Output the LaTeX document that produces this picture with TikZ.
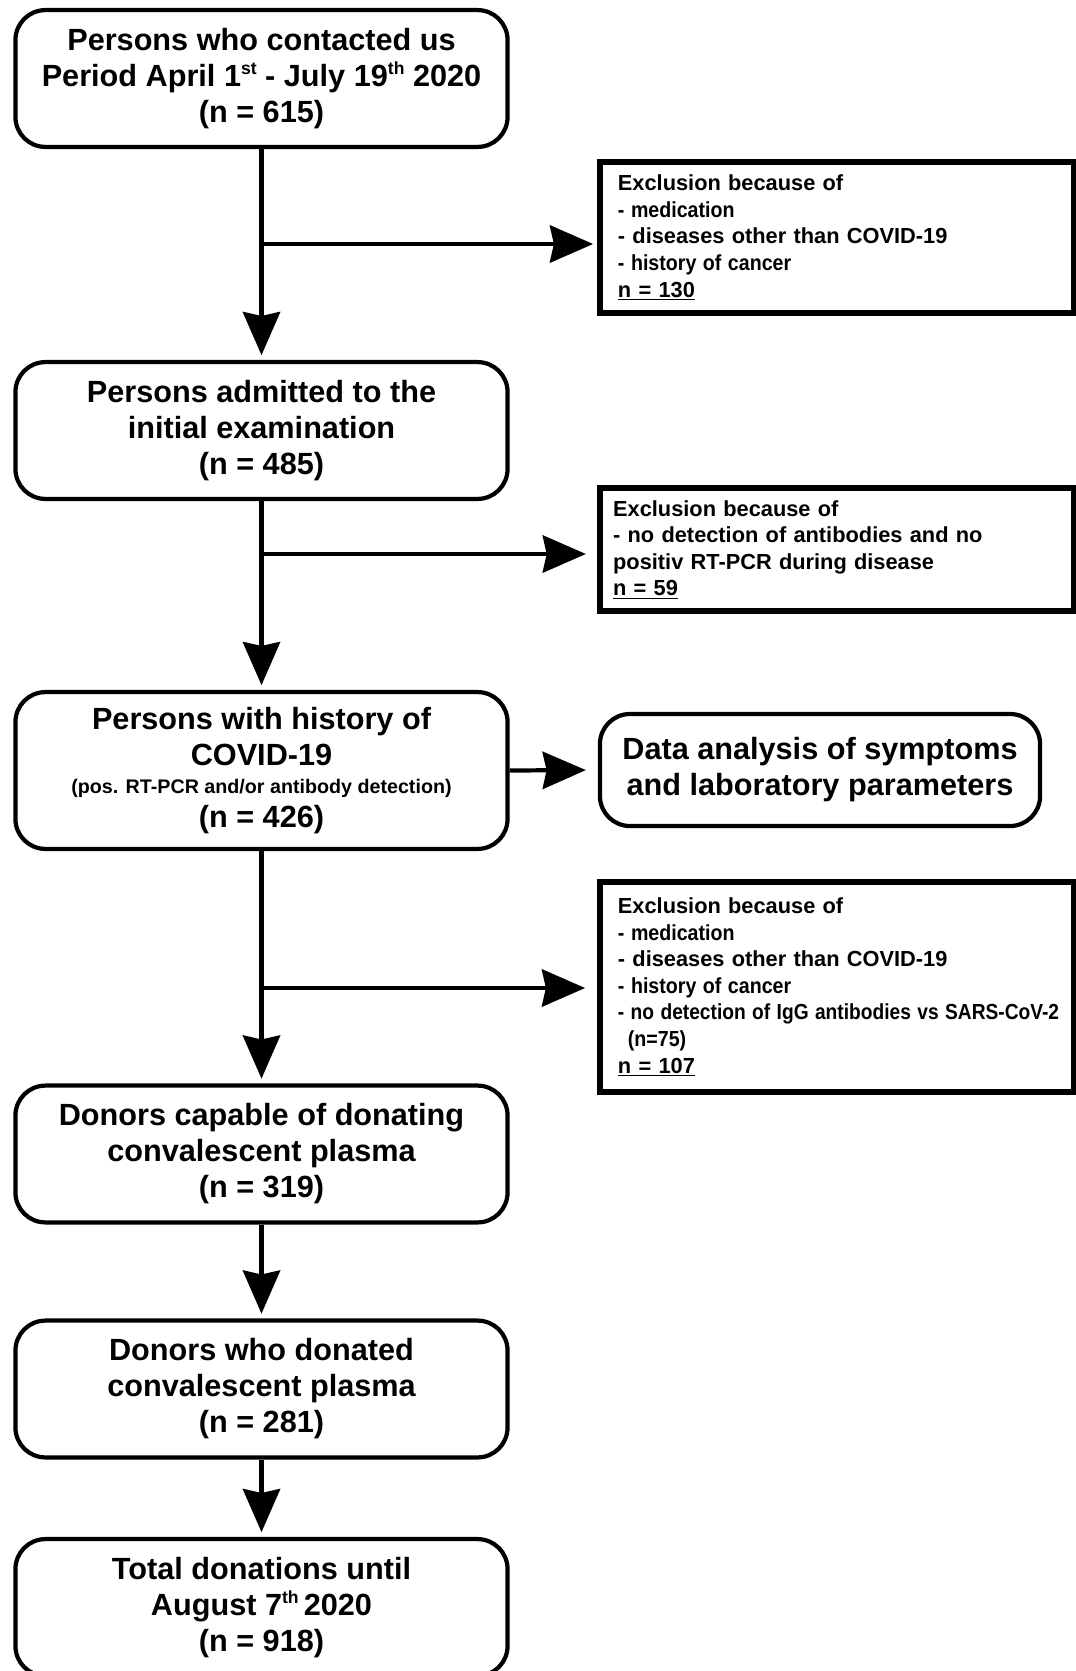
\documentclass[tikz,border=0pt]{standalone}
\usepackage{fontspec}
\usepackage{graphicx}
\setmainfont{Liberation Sans}
\usetikzlibrary{arrows.meta}
\newcommand{\narrow}[1]{\scalebox{0.9}[1]{#1}}
\newcommand{\ord}[1]{\raisebox{0.4em}{\fontsize{12.5}{12.5}\selectfont#1}}
\begin{document}
\begin{tikzpicture}[x=0.025cm,y=-0.025cm,
    stage/.style={draw, line width=3pt, rounded corners=0.75cm, minimum width=12.3cm,
      minimum height=3.42cm, align=center, inner sep=0pt,
      font=\bfseries\fontsize{21.8}{25.6}\selectfont},
    excl/.style={draw, line width=4pt, minimum width=11.85cm, text width=10.95cm,
      inner xsep=0.45cm, align=left, font=\bfseries\fontsize{15.5}{18.9}\selectfont},
    flow/.style={line width=3pt, -{Stealth[length=1.08cm,width=0.93cm,inset=0.1cm]}}]
  \useasboundingbox (0,0) rectangle (1076,1671);
  \node[stage] (contact) at (261.5,78.5) {Persons who contacted us\\
    Period April 1\ord{st} - July 19\ord{th} 2020\\(n = 615)};
  \node[stage] (admit) at (261.5,430.5) {Persons admitted to the\\initial examination\\(n = 485)};
  \node[stage, minimum height=3.92cm] (history) at (261.5,770.5) {Persons with history of\\COVID-19\\[-5.2pt]
    {\fontsize{14}{16}\selectfont(pos. RT-PCR and/or antibody detection)}\\[-1.4pt](n = 426)};
  \node[stage] (capable) at (261.5,1154) {Donors capable of donating\\convalescent plasma\\(n = 319)};
  \node[stage] (donated) at (261.5,1389) {Donors who donated\\convalescent plasma\\(n = 281)};
  \node[stage] (total) at (261.5,1607.5) {Total donations until\\
    August 7\ord{th}\,2020\\(n = 918)};
  \node[stage, minimum width=11cm, minimum height=2.8cm] (analysis) at (820,770)
    {Data analysis of symptoms\\and laboratory parameters};
  \node[excl, minimum height=3.775cm] (excl1) at (837,237.5) {Exclusion because of\\
    \narrow{- medication}\\- diseases other than COVID-19\\\narrow{- history of cancer}\\\underline{n = 130}};
  \node[excl, minimum height=3.075cm, inner xsep=0.33cm, text width=11.19cm] (excl2) at (837,549.5)
    {Exclusion because of\\- no detection of antibodies and no\\positiv RT-PCR during disease\\\underline{n = 59}};
  \node[excl, minimum height=5.25cm] (excl3) at (837,987) {Exclusion because of\\
    \narrow{- medication}\\- diseases other than COVID-19\\\narrow{- history of cancer}\\
    \scalebox{0.88}[1]{- no detection of IgG antibodies vs SARS-CoV-2}\\
    \hspace*{0.25cm}\narrow{(n=75)}\\\underline{n = 107}};
  % branch points on the main line
  \coordinate (b1) at (261.5,244);
  \coordinate (b2) at (261.5,554);
  \coordinate (b3) at (261.5,988);
  \draw[flow, shorten >=0.12cm] (contact) -- (admit);
  \draw[flow, shorten >=0.12cm] (admit) -- (history);
  \draw[flow, shorten >=0.12cm] (history) -- (capable);
  \draw[flow, shorten >=0.12cm] (capable) -- (donated);
  \draw[flow, shorten >=0.12cm] (donated) -- (total);
  \draw[flow, shorten >=0.1cm] (b1) -- (b1 -| excl1.west);
  \draw[flow, shorten >=0.28cm] (b2) -- (b2 -| excl2.west);
  \draw[flow, shorten >=0.3cm] (b3) -- (b3 -| excl3.west);
  \draw[flow, shorten >=0.3cm] (history.east) -- (analysis.west);
\end{tikzpicture}
\end{document}
